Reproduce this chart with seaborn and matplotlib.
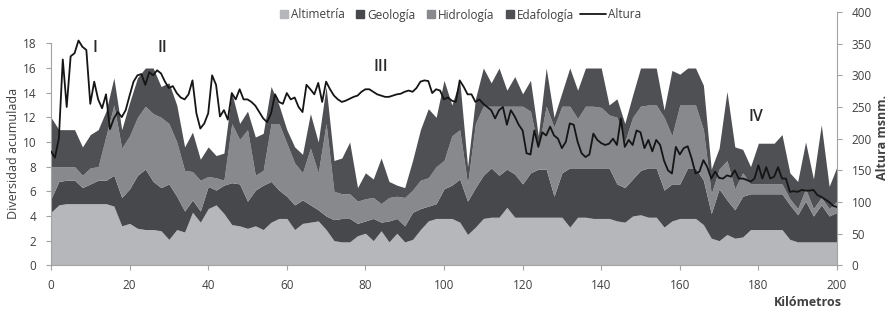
import pandas as pd
import seaborn as sns
import matplotlib.pyplot as plt
from matplotlib.lines import Line2D

sns.set_theme(style='white')
plt.rcParams['font.family'] = ['Open Sans', 'DejaVu Sans']

# kilometre marks of the diversity series (every 2 km)
km = list(range(0, 201, 2))
altimetria = [4.3, 4.9, 5.0, 5.0, 5.0, 5.0, 5.0, 5.0, 4.8, 3.2,
              3.4, 3.0, 2.9, 2.9, 2.8, 2.1, 2.9, 2.7, 4.3, 3.5,
              4.6, 4.9, 4.2, 3.3, 3.2, 3.0, 3.2, 2.9, 3.5, 3.8,
              3.8, 2.9, 3.4, 3.5, 3.6, 2.9, 2.0, 1.9, 1.9, 2.4,
              2.6, 2.0, 2.8, 1.9, 2.6, 1.9, 2.1, 2.9, 3.6, 3.8,
              3.8, 3.8, 3.5, 2.5, 3.1, 3.8, 3.9, 3.9, 4.7, 3.9,
              3.9, 3.9, 3.9, 3.9, 3.9, 3.9, 3.1, 3.9, 3.9, 3.8,
              3.8, 3.8, 3.6, 3.5, 4.0, 4.1, 3.9, 3.9, 3.1, 3.6,
              3.8, 3.8, 3.8, 3.3, 2.2, 2.0, 2.5, 2.2, 2.3, 2.9,
              2.9, 2.9, 2.9, 2.9, 2.1, 1.9, 1.9, 1.9, 1.9, 1.9,
              1.9]
geologia = [1.1, 1.9, 1.9, 1.9, 1.3, 1.6, 1.9, 1.9, 2.5, 2.3,
            2.8, 4.3, 4.9, 3.9, 3.5, 4.5, 2.7, 1.7, 1.0, 0.9,
            1.8, 1.2, 2.3, 3.4, 3.4, 2.2, 2.9, 3.6, 3.3, 2.3,
            1.8, 2.0, 1.9, 1.4, 0.9, 1.1, 1.7, 1.9, 1.9, 1.0,
            1.0, 1.8, 0.7, 1.7, 1.2, 1.3, 2.2, 1.7, 1.2, 1.2,
            2.4, 2.7, 3.5, 2.7, 3.2, 3.5, 4.0, 3.4, 3.1, 3.5,
            2.7, 3.6, 3.9, 3.9, 1.7, 3.6, 4.8, 4.0, 4.0, 4.1,
            4.1, 4.1, 3.0, 2.8, 3.0, 3.6, 4.0, 4.0, 3.0, 3.0,
            2.8, 4.1, 4.1, 3.6, 2.0, 4.2, 2.8, 2.3, 3.3, 2.9,
            2.9, 2.9, 2.9, 2.9, 2.8, 2.2, 3.3, 2.1, 3.0, 2.1,
            2.4]
hidrologia = [2.6, 1.2, 1.1, 1.1, 1.0, 1.3, 1.1, 3.6, 5.7, 4.0,
              4.3, 4.7, 5.1, 5.5, 5.7, 4.9, 4.4, 3.3, 2.3, 2.5,
              0.8, 1.0, 0.4, 4.8, 3.6, 5.8, 1.2, 1.2, 4.7, 5.4,
              4.3, 3.4, 2.2, 4.6, 3.0, 7.5, 2.3, 2.0, 2.0, 1.8,
              1.8, 1.7, 1.5, 1.9, 1.8, 2.3, 1.8, 2.3, 2.3, 3.0,
              2.3, 4.0, 4.0, 1.4, 5.2, 5.6, 5.0, 5.6, 5.1, 5.5,
              6.3, 5.0, 1.7, 5.1, 5.6, 5.4, 5.0, 4.0, 5.0, 5.0,
              4.9, 4.3, 5.4, 3.7, 5.0, 5.2, 5.1, 5.1, 5.9, 3.9,
              6.4, 5.1, 5.1, 4.1, 1.6, 1.6, 3.2, 1.7, 1.9, 0.8,
              0.8, 0.8, 0.8, 0.8, 0.5, 0.5, 1.0, 0.6, 0.6, 0.6,
              0.9]
edafologia = [4.0, 3.0, 3.0, 3.0, 2.3, 2.7, 3.0, 2.0, 2.2, 1.5,
              2.7, 3.2, 3.1, 3.7, 2.5, 3.3, 3.0, 1.9, 3.2, 1.7,
              2.4, 1.8, 2.2, 2.5, 1.3, 1.5, 3.1, 3.0, 3.0, 1.5,
              1.1, 1.3, 1.5, 2.8, 2.5, 3.0, 2.5, 2.9, 4.2, 1.1,
              2.1, 1.5, 3.7, 1.3, 0.9, 0.8, 2.4, 4.1, 5.6, 4.0,
              6.5, 2.5, 4.0, 1.4, 2.0, 3.1, 1.9, 3.1, 1.3, 2.4,
              1.0, 2.5, 1.0, 3.1, 0.8, 1.1, 3.1, 2.3, 3.1, 3.1,
              3.2, 0.8, 1.5, 1.5, 1.8, 3.1, 3.0, 3.0, 0.6, 5.3,
              2.5, 3.0, 3.0, 3.6, 2.0, 1.7, 5.6, 3.4, 1.9, 1.4,
              3.3, 3.3, 3.3, 4.0, 2.1, 2.2, 3.8, 2.4, 5.9, 1.8,
              2.8]

# altitude profile, every km
km_alt = list(range(0, 201))
altura = [180, 170, 200, 325, 250, 330, 335, 355, 345, 340,
          255, 290, 262, 248, 270, 215, 232, 242, 234, 245,
          268, 290, 300, 302, 285, 305, 300, 308, 303, 290,
          280, 283, 272, 265, 262, 270, 292, 240, 216, 224,
          240, 300, 285, 235, 245, 230, 272, 262, 278, 262,
          262, 258, 252, 242, 232, 226, 240, 270, 258, 255,
          272, 262, 265, 250, 242, 285, 278, 270, 288, 258,
          290, 278, 268, 262, 258, 260, 263, 266, 268, 274,
          278, 278, 274, 270, 268, 266, 266, 268, 270, 271,
          274, 276, 274, 280, 290, 292, 291, 272, 278, 276,
          262, 265, 260, 258, 292, 282, 270, 270, 258, 262,
          255, 250, 245, 232, 245, 250, 222, 245, 235, 222,
          213, 177, 175, 213, 187, 210, 205, 219, 205, 200,
          185, 195, 224, 222, 195, 177, 171, 175, 208, 198,
          193, 190, 192, 200, 190, 232, 187, 198, 190, 213,
          210, 185, 198, 180, 198, 190, 165, 150, 145, 187,
          175, 185, 188, 169, 145, 148, 166, 155, 137, 148,
          138, 137, 142, 140, 150, 137, 137, 135, 132, 137,
          158, 137, 155, 137, 140, 155, 137, 137, 116, 117,
          116, 119, 118, 118, 119, 111, 108, 104, 100, 94,
          92]

series = ['Altimetría', 'Geología', 'Hidrología', 'Edafología']
colors = ['#b6b7bb', '#47484b', '#88898d', '#4f5053']
text_col = '#404040'
axis_col = '#a3a3a3'

fig = plt.figure(figsize=(8.93, 3.11), dpi=100)
ax = fig.add_axes([0.0571, 0.1469, 0.8802, 0.8145])
ax.stackplot(km, altimetria, geologia, hidrologia, edafologia,
             colors=colors, linewidth=0)
ax.set_xlim(0, 200)
ax.set_ylim(0, 20.54)
ax.set_xticks(range(0, 201, 20))
ax.set_yticks(range(0, 19, 2))
ax.spines['left'].set_bounds(0, 18)
ax.tick_params(axis='both', labelsize=8.5, colors=axis_col,
               labelcolor=text_col, length=3.5, width=0.8, direction='out')
ax.tick_params(axis='y', pad=7, left=True)
ax.tick_params(axis='x', pad=6, bottom=True)

ax2 = ax.twinx()
df = pd.DataFrame({'km': km_alt, 'altura': altura})
sns.lineplot(data=df, x='km', y='altura', ax=ax2, color='#151515', lw=1.3)
ax2.set_ylim(0, 400)
ax2.set_xlim(0, 200)
ax2.set_yticks(range(0, 401, 50))
ax2.set_xlabel('')
ax2.set_ylabel('')
ax2.tick_params(axis='y', labelsize=8.5, colors=axis_col, labelcolor=text_col,
                length=3.5, width=0.8, direction='out', pad=7, right=True)

for a in (ax, ax2):
    a.spines['top'].set_visible(False)
    for s in ('left', 'right', 'bottom'):
        a.spines[s].set_color(axis_col)
        a.spines[s].set_linewidth(0.8)
ax.spines['right'].set_visible(False)
ax2.spines['left'].set_visible(False)
ax2.spines['bottom'].set_visible(False)

# roman numeral section marks
for label, x, y in [('I', 11.2, 17.6), ('II', 28.4, 17.6),
                    ('III', 84.0, 16.1), ('IV', 179.4, 12.0)]:
    ax.text(x, y, label, fontsize=11.5, color='#2a2a2a',
            fontweight='semibold', ha='center', va='center')

fig.text(14 / 893, 1 - 153 / 311, 'Diversidad acumulada', rotation=90,
         fontsize=9, color=text_col, ha='center', va='center')
fig.text(883 / 893, 1 - 137 / 311, 'Altura msnm.', rotation=90,
         fontsize=9, color=text_col, ha='center', va='center',
         fontweight='bold')
fig.text(808 / 893, 1 - 302 / 311, 'Kilómetros', fontsize=9,
         color=text_col, ha='center', va='center', fontweight='bold')

sq = [Line2D([], [], marker='s', ls='', color=c, markersize=6) for c in colors]
fig.legend(sq, series, loc='center right',
           bbox_to_anchor=(574 / 893, 1 - 15 / 311), ncol=4,
           frameon=False, fontsize=8.5, handlelength=0.6,
           handletextpad=0.3, columnspacing=1.0, borderpad=0,
           borderaxespad=0, labelcolor=text_col)
ln = [Line2D([], [], color='#151515', lw=1.3)]
fig.legend(ln, ['Altura'], loc='center left',
           bbox_to_anchor=(580 / 893, 1 - 15 / 311), frameon=False,
           fontsize=8.5, handlelength=2.2, handletextpad=0.2,
           borderpad=0, borderaxespad=0, labelcolor=text_col)

plt.savefig('out.png', dpi=100)
